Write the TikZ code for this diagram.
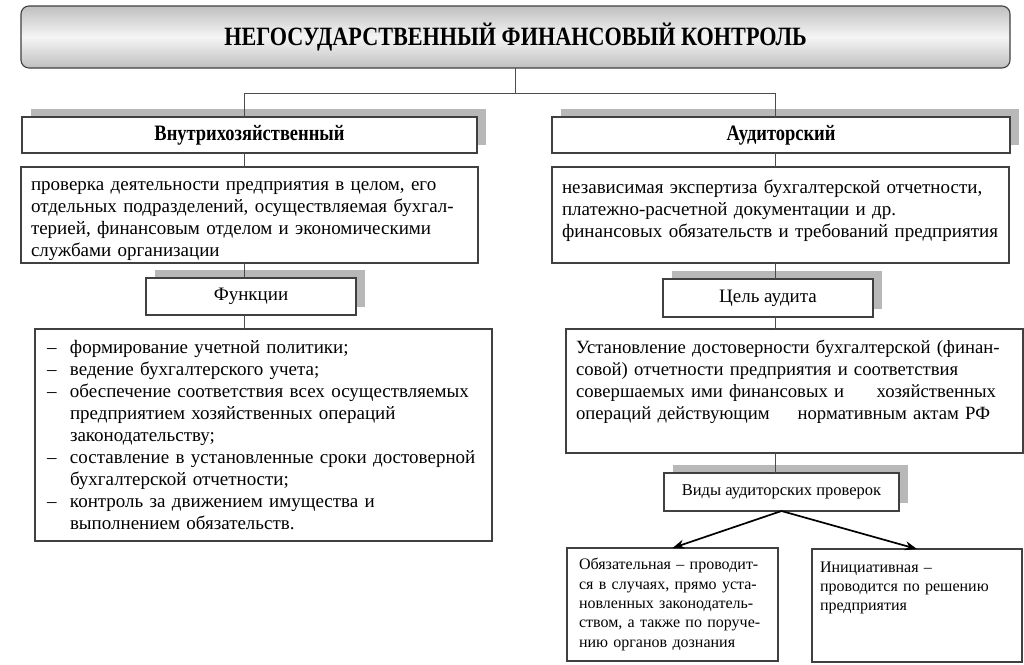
\documentclass[tikz,border=0pt]{standalone}
\usepackage{fontspec}
\setmainfont{Liberation Serif}
\newfontfamily\headfont[FakeStretch=0.84]{Liberation Serif}
\usetikzlibrary{arrows, arrows.meta, positioning, shadows}

\newcommand{\itemdash}{\makebox[23pt][l]{--}}
\newcommand{\itemgap}{\hspace*{23pt}}
\newcommand{\topgap}{\rule{0pt}{22pt}}

\begin{document}
\begin{tikzpicture}[x=1pt, y=-1pt, >={Stealth[length=12pt, width=9pt]},
	every node/.style={inner sep=0pt, outer sep=0pt},
	box/.style={draw=black!75, line width=1.1pt, fill=white},
	headbox/.style={box, drop shadow={shadow xshift=9pt, shadow yshift=8pt, fill=black!28, opacity=1}},
	wire/.style={draw=black!70, line width=0.9pt},
	txt/.style={font=\fontsize{19}{22}\selectfont, align=left},
	small/.style={font=\fontsize{16}{19.3}\selectfont, align=left},
	head/.style={font=\headfont\bfseries\fontsize{22}{24}\selectfont}]

	\path [use as bounding box, fill=white] (0,0) rectangle (1024,664);

	% top
	\node [draw=black!75, line width=1.1pt, rounded corners=8pt, minimum width=989pt, minimum height=62pt,
		top color=black!25, bottom color=black!25, middle color=black!4,
		font=\headfont\bfseries\fontsize{26.4}{30}\selectfont] (T) at (515.5,37)
		{НЕГОСУДАРСТВЕННЫЙ ФИНАНСОВЫЙ КОНТРОЛЬ};

	\coordinate (sl) at (244,93);
	\coordinate (sr) at (775,93);

	% left branch
	\node [headbox, head, minimum width=455pt, minimum height=36pt] (V) at (249.5,135) {Внутрихозяйственный};
	\node [box, txt, text width=437pt, inner xsep=10pt, minimum height=96pt] (P) at (249.5,215)
		{\topgap проверка деятельности предприятия в целом, его\\
		отдельных подразделений, осуществляемая бухгал-\\
		терией, финансовым отделом и экономическими\\
		службами организации};
	\node [headbox, txt, minimum width=210pt, minimum height=37pt] (F) at (251,296.5) {Функции};
	\node [box, txt, text width=433pt, inner xsep=12pt, minimum height=212pt] (L) at (263.5,435)
		{\itemdash формирование учетной политики;\\
		\itemdash ведение бухгалтерского учета;\\
		\itemdash обеспечение соответствия всех осуществляемых\\
		\itemgap предприятием хозяйственных операций\\
		\itemgap законодательству;\\
		\itemdash составление в установленные сроки достоверной\\
		\itemgap бухгалтерской отчетности;\\
		\itemdash контроль за движением имущества и\\
		\itemgap выполнением обязательств.};

	% right branch
	\node [headbox, head, minimum width=458pt, minimum height=36pt] (A) at (781,135) {Аудиторский};
	\node [box, txt, text width=437pt, inner xsep=10pt, minimum height=96pt] (R) at (780.5,215)
		{\topgap независимая экспертиза бухгалтерской отчетности,\\
		платежно-расчетной документации и др.\\
		финансовых обязательств и требований предприятия\\
		\mbox{}};
	\node [headbox, txt, minimum width=210pt, minimum height=38pt] (C) at (768,298) {Цель аудита};
	\node [box, txt, font=\fontsize{18.7}{22}\selectfont, text width=437pt, inner xsep=10pt, minimum height=124pt] (G) at (794.5,391)
		{Установление достоверности бухгалтерской (финан-\\
		совой) отчетности предприятия и соответствия\\
		\makebox[420pt][l]{совершаемых ими финансовых и\hfill хозяйственных}\\
		\makebox[414pt][l]{операций действующим\hfill нормативным актам РФ}\\
		\mbox{}};
	\node [headbox, font=\fontsize{16.5}{19}\selectfont, minimum width=235pt, minimum height=38pt] (K) at (781.5,492)
		{Виды аудиторских проверок};
	\node [box, small, text width=187pt, inner xsep=12pt, minimum height=113pt] (O) at (672.5,604.5)
		{Обязательная -- проводит-\\
		ся в случаях, прямо уста-\\
		новленных законодатель-\\
		ством, а также по поруче-\\
		нию органов дознания};
	\node [box, small, text width=194pt, inner xsep=8pt, minimum height=113pt] (I) at (917,605.5)
		{Инициативная --\\
		проводится по решению\\
		предприятия\\
		\mbox{}\\
		\mbox{}};

	% connectors
	\draw [wire] (T.south) -- (T.south |- sl);
	\draw [wire] (sl) -- (sr);
	\draw [wire] (sl) -- (V.north -| sl);
	\draw [wire] (V.south -| sl) -- (P.north -| sl);
	\draw [wire] (P.south -| sl) -- (F.north -| sl);
	\draw [wire] (F.south -| sl) -- (L.north -| sl);
	\draw [wire] (sr) -- (A.north -| sr);
	\draw [wire] (A.south -| sr) -- (R.north -| sr);
	\draw [wire] (R.south -| sr) -- (C.north -| sr);
	\draw [wire] (C.south -| sr) -- (G.north -| sr);
	\draw [wire] (G.south -| sr) -- (K.north -| sr);

	\draw [->, line width=1.7pt] (K.south) -- (O.north);
	\draw [->, line width=1.7pt] (K.south) -- (I.north);

\end{tikzpicture}
\end{document}
